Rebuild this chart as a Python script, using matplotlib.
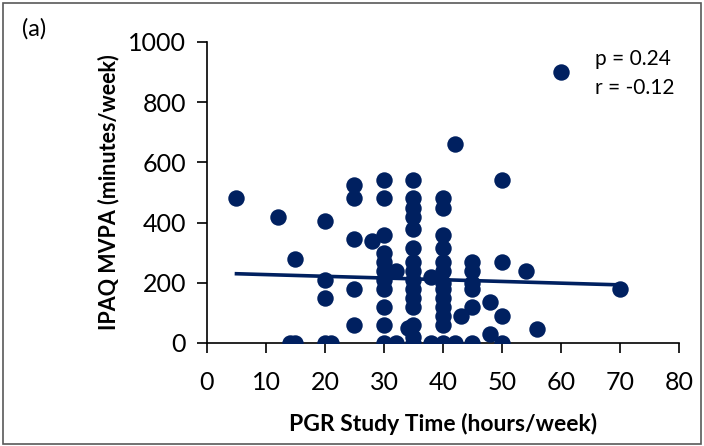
import numpy as np
import matplotlib.pyplot as plt
from matplotlib.patches import Rectangle

plt.rcParams['font.family'] = ['Lato', 'DejaVu Sans']

# study time (hours/week) and MVPA (minutes/week)
study_hours = [5, 12, 15, 14, 15,
               20, 20, 20, 20, 21,
               25, 25, 25, 25, 25, 28,
               30, 30, 30, 30, 30, 30, 30, 30, 30, 30, 30,
               32, 32, 34, 35,
               35, 35, 35, 35, 35, 35, 35, 35, 35, 35, 35, 35, 35, 35,
               38, 38,
               40, 40, 40, 40, 40, 40, 40, 40, 40, 40, 40, 40, 40,
               42, 42, 43,
               45, 45, 45, 45, 45, 45,
               48, 48, 50, 50, 50, 50, 54, 56, 60, 70]
mvpa = [480, 420, 280, 0, 0,
        405, 210, 150, 0, 0,
        525, 480, 345, 180, 60, 340,
        540, 480, 360, 300, 270, 240, 210, 180, 120, 60, 0,
        240, 0, 50, 20,
        540, 480, 450, 420, 380, 315, 270, 240, 210, 180, 150, 120, 60, 0,
        220, 0,
        480, 450, 360, 315, 270, 240, 200, 180, 150, 120, 90, 60, 0,
        660, 0, 90,
        270, 240, 200, 180, 120, 0,
        135, 30, 540, 270, 90, 0, 240, 45, 900, 180]

# trend line end values
trend_x = [5, 70]
trend_y = [230, 193]

x_ticks = [0, 10, 20, 30, 40, 50, 60, 70, 80]
y_ticks = [0, 200, 400, 600, 800, 1000]

navy = '#002060'

fig = plt.figure(figsize=(7.04, 4.46), dpi=100)
ax = fig.add_axes([0.294, 0.231, 0.6705, 0.675])

ax.scatter(study_hours, mvpa, s=140, color=navy, zorder=3, linewidths=0)
ax.plot(trend_x, trend_y, color=navy, lw=2.6, zorder=2)

ax.set_xlim(0, 80)
ax.set_ylim(0, 1000)
ax.set_xticks(x_ticks)
ax.set_yticks(y_ticks)
ax.tick_params(labelsize=18, length=7, width=1.2, direction='out')
ax.tick_params(axis='x', pad=13)
ax.tick_params(axis='y', pad=8)
for s in ['top', 'right']:
    ax.spines[s].set_visible(False)
for s in ['left', 'bottom']:
    ax.spines[s].set_linewidth(1.2)
    ax.spines[s].set_clip_on(False)

ax.set_xlabel('PGR Study Time (hours/week)', fontsize=16.5, fontweight='bold', labelpad=14)
ax.set_ylabel('IPAQ MVPA (minutes/week)', fontsize=15.5, fontweight='bold', labelpad=6)

fig.text(0.845, 0.868, 'p = 0.24', fontsize=15, va='center')
fig.text(0.845, 0.802, 'r = -0.12', fontsize=15, va='center')
fig.text(0.031, 0.935, '(a)', fontsize=17, va='center')

fig.patches.append(Rectangle((0.004, 0.004), 0.992, 0.99, transform=fig.transFigure,
                             fill=False, edgecolor='#595959', lw=1.2))

fig.savefig('out.png', dpi=100)
